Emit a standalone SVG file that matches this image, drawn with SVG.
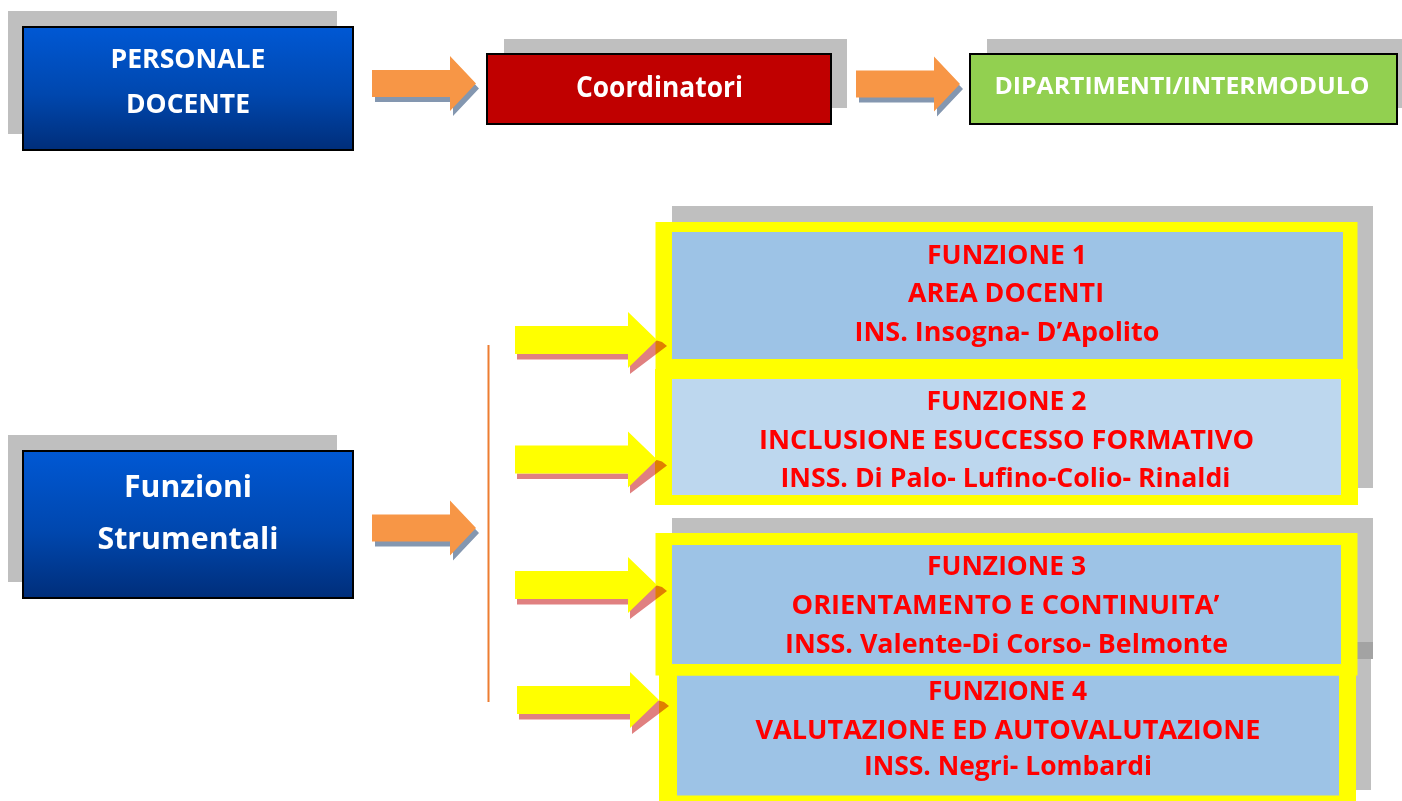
<svg xmlns="http://www.w3.org/2000/svg" width="1402" height="801" viewBox="0 0 1402 801">
<defs>
<linearGradient id="blueGrad" x1="0" y1="0" x2="0" y2="1">
<stop offset="0" stop-color="#0058D4"/>
<stop offset="0.55" stop-color="#0047AE"/>
<stop offset="1" stop-color="#002E7A"/>
</linearGradient>
<path id="orangeArrow" d="M0,-13.5 H78 V-27.5 L104,0 L78,27.5 V13.5 H0 Z"/>
<path id="yellowArrow" d="M-142,-14 H-29 V-28 L0,0 L-29,28 V14 H-142 Z"/>
<path id="pinkShadow" d="M-140,14 V19.5 H-27 V34 L10,6 L5,2 L-2,0 L-29,14 Z"/>
</defs>
<style>
.shadow{fill:#BFBFBF}
.blue{fill:url(#blueGrad);stroke:#000;stroke-width:2}
.red{fill:#C00000;stroke:#000;stroke-width:2}
.green{fill:#92D050;stroke:#000;stroke-width:2}
.frame{fill:#FFFF00}
.inner{fill:#9DC3E6}
.inner2{fill:#BDD7EE}
.wt{font-family:"Open Sans","Liberation Sans",sans-serif;font-weight:bold;fill:#FFFFFF;text-anchor:middle}
.rt{font-family:"Open Sans","Liberation Sans",sans-serif;font-weight:bold;font-size:27px;fill:#FF0000;text-anchor:middle}
.oarrow{fill:#F79646}
.oshadow{fill:#8497B0}
.yarrow{fill:#FFFF00}
.yshadow{fill:#E08080;mix-blend-mode:multiply}
.vline{stroke:#ED7D31;stroke-width:2;fill:none}
</style>

<g id="personale-docente">
<rect class="shadow" x="8" y="11" width="329" height="123"/>
<rect class="blue" x="23" y="27" width="330" height="123"/>
<text class="wt" x="188" y="68" font-size="27" textLength="155" lengthAdjust="spacingAndGlyphs">PERSONALE</text>
<text class="wt" x="188" y="113" font-size="27" textLength="124" lengthAdjust="spacingAndGlyphs">DOCENTE</text>
</g>

<g id="coordinatori">
<rect class="shadow" x="504" y="39" width="343" height="69"/>
<rect class="red" x="487" y="54" width="344" height="70"/>
<text class="wt" x="659.5" y="96.5" font-size="29" textLength="167" lengthAdjust="spacingAndGlyphs">Coordinatori</text>
</g>

<g id="dipartimenti">
<rect class="shadow" x="987" y="39" width="415" height="69"/>
<rect class="green" x="970" y="54" width="427" height="70"/>
<text class="wt" x="1182" y="93.5" font-size="24" textLength="375" lengthAdjust="spacingAndGlyphs">DIPARTIMENTI/INTERMODULO</text>
</g>

<g id="funzioni-strumentali">
<rect class="shadow" x="8" y="435" width="329" height="147"/>
<rect class="blue" x="23" y="451" width="330" height="147"/>
<text class="wt" x="188" y="496.5" font-size="30" textLength="128" lengthAdjust="spacingAndGlyphs">Funzioni</text>
<text class="wt" x="188" y="549" font-size="30" textLength="181" lengthAdjust="spacingAndGlyphs">Strumentali</text>
</g>

<g id="funzione-1">
<rect class="shadow" x="672" y="206" width="701" height="282"/>
<rect class="frame" x="655.5" y="222" width="702" height="147"/>
<rect class="inner" x="672" y="232" width="671" height="127"/>
<text class="rt" x="1007" y="263.5" textLength="160" lengthAdjust="spacingAndGlyphs">FUNZIONE 1</text>
<text class="rt" x="1006" y="301.5" textLength="196" lengthAdjust="spacingAndGlyphs">AREA DOCENTI</text>
<text class="rt" x="1007" y="340.5" textLength="305" lengthAdjust="spacingAndGlyphs">INS. Insogna- D’Apolito</text>
</g>

<g id="funzione-2">
<rect class="frame" x="655" y="369" width="703" height="136"/>
<rect class="inner2" x="672" y="379" width="669" height="116"/>
<text class="rt" x="1006.5" y="410" textLength="160" lengthAdjust="spacingAndGlyphs">FUNZIONE 2</text>
<text class="rt" x="1006.5" y="449" textLength="495" lengthAdjust="spacingAndGlyphs">INCLUSIONE ESUCCESSO FORMATIVO</text>
<text class="rt" x="1005.5" y="486.5" textLength="450" lengthAdjust="spacingAndGlyphs">INSS. Di Palo- Lufino-Colio- Rinaldi</text>
</g>

<g id="funzione-4">
<rect class="shadow" x="676" y="642" width="695" height="148"/>
<rect class="frame" x="659" y="657" width="697" height="150"/>
<rect class="inner" x="677" y="675.5" width="662" height="120"/>
<text class="rt" x="1007.5" y="699.5" textLength="159" lengthAdjust="spacingAndGlyphs">FUNZIONE 4</text>
<text class="rt" x="1008" y="738.5" textLength="505" lengthAdjust="spacingAndGlyphs">VALUTAZIONE ED AUTOVALUTAZIONE</text>
<text class="rt" x="1008" y="775" textLength="288" lengthAdjust="spacingAndGlyphs">INSS. Negri- Lombardi</text>
</g>

<g id="funzione-3">
<rect class="shadow" x="672" y="518" width="701" height="141"/>
<rect x="1357" y="642" width="16" height="17" fill="#A3A3A3"/>
<rect class="frame" x="655.5" y="533" width="702" height="142.5"/>
<rect class="inner" x="672" y="545" width="669" height="119"/>
<text class="rt" x="1006.5" y="575" textLength="159" lengthAdjust="spacingAndGlyphs">FUNZIONE 3</text>
<text class="rt" x="1005.5" y="614" textLength="428" lengthAdjust="spacingAndGlyphs">ORIENTAMENTO E CONTINUITA’</text>
<text class="rt" x="1006.5" y="652.5" textLength="443" lengthAdjust="spacingAndGlyphs">INSS. Valente-Di Corso- Belmonte</text>
</g>

<g id="connectors">
<use href="#orangeArrow" class="oshadow" transform="translate(375,88.5)"/>
<use href="#orangeArrow" class="oarrow" transform="translate(372,83.5)"/>
<use href="#orangeArrow" class="oshadow" transform="translate(859,89)"/>
<use href="#orangeArrow" class="oarrow" transform="translate(856,84)"/>
<use href="#orangeArrow" class="oshadow" transform="translate(375,533)"/>
<use href="#orangeArrow" class="oarrow" transform="translate(372,528)"/>
<line class="vline" x1="488.5" y1="345" x2="488.5" y2="702"/>
<use href="#pinkShadow" class="yshadow" transform="translate(657,340)"/>
<use href="#yellowArrow" class="yarrow" transform="translate(657,340)"/>
<use href="#pinkShadow" class="yshadow" transform="translate(657,459.5)"/>
<use href="#yellowArrow" class="yarrow" transform="translate(657,459.5)"/>
<use href="#pinkShadow" class="yshadow" transform="translate(657,585)"/>
<use href="#yellowArrow" class="yarrow" transform="translate(657,585)"/>
<use href="#pinkShadow" class="yshadow" transform="translate(659,700)"/>
<use href="#yellowArrow" class="yarrow" transform="translate(659,700)"/>
</g>
</svg>
